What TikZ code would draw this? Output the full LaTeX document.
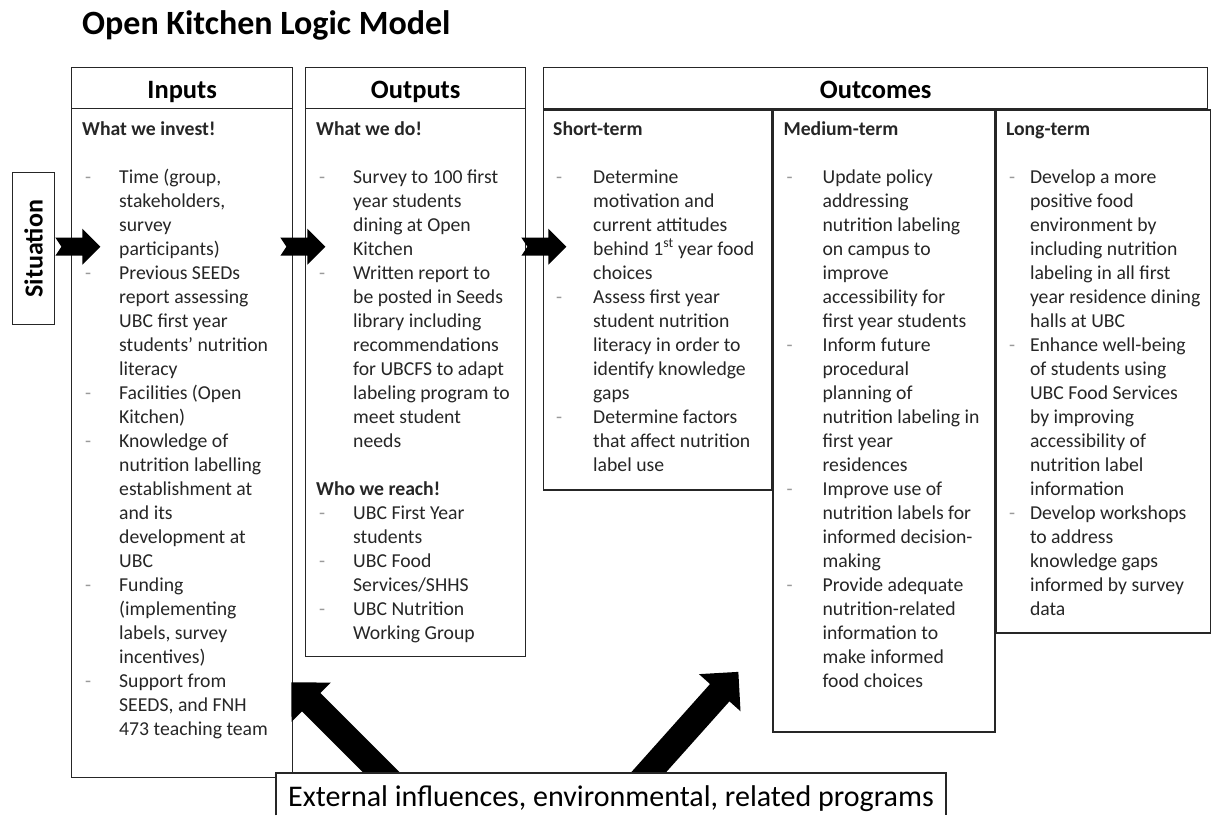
\documentclass[tikz,border=0pt]{standalone}
\usepackage{fontspec}
\setmainfont{Carlito}
\usepackage{xcolor}
\usetikzlibrary{arrows.meta, positioning, calc}

\definecolor{bodygray}{HTML}{262626}
\definecolor{dashgray}{HTML}{9A9A9A}
\newcommand{\itemdash}{\hspace{3pt}\textcolor{dashgray}{-}}
\newcommand{\colhead}[1]{\multicolumn{2}{@{}l@{}}{\textbf{#1}}}

\begin{document}
\begin{tikzpicture}[
  x=1pt, y=-1pt,
  colbox/.style = {draw=black!85, line width=1.4pt, fill=white,
    anchor=north west, inner sep=0pt},
  headbox/.style = {colbox, text height=21pt, text depth=1pt,
    font=\fontsize{26.5}{30}\selectfont\bfseries},
  bodytext/.style = {anchor=north west, inner sep=0pt, text=bodygray,
    font=\fontsize{19.7}{24}\selectfont},
  bigarrow/.style = {line width=26pt, -{Triangle[length=28pt, width=54pt]}},
  flowarrow/.pic = {\fill (0,-9) -- (27,-9) -- (27,-18) -- (45,0)
    -- (27,18) -- (27,9) -- (0,9) -- (6,0) -- cycle;},
]
\path[use as bounding box, fill=white] (0,0) rectangle (1213,815);

% Title
\node[anchor=base west, inner sep=0pt, font=\fontsize{34}{38}\selectfont\bfseries] (title) at (82,34) {Open Kitchen Logic Model};

% Situation
\node[colbox, minimum width=42pt, minimum height=152pt] (sit) at (12,172) {};
\node[rotate=90, font=\fontsize{26}{30}\selectfont\bfseries] (sitlbl) at (sit.center) {Situation};

% Column boxes
\node[colbox, minimum width=221pt, minimum height=710pt] (inp) at (71,67) {};
\node[headbox, minimum width=221pt, minimum height=41pt] (inph) at (71,67) {Inputs};
\node[colbox, minimum width=220pt, minimum height=589pt] (outp) at (305,67) {};
\node[headbox, minimum width=220pt, minimum height=41pt] (outph) at (305,67) {Outputs};
\node[headbox, minimum width=664pt, minimum height=41pt] (outch) at (543,67) {Outcomes};
\node[colbox, minimum width=228pt, minimum height=380pt] (short) at (outch.south west) {};
\node[colbox, minimum width=222pt, minimum height=622pt] (medium) at (short.north east) {};
\node[colbox, minimum width=214pt, minimum height=523pt] (long) at (medium.north east) {};

% Inputs text
\node[bodytext] (inptxt) at ($(inph.south west)+(11,9)$) {%
\begin{tabular}{@{}p{37pt}@{}l@{}}
\colhead{What we invest!}\\[24pt]
\itemdash & Time (group,\\
          & stakeholders,\\
          & survey\\
          & participants)\\
\itemdash & Previous SEEDs\\
          & report assessing\\
          & UBC first year\\
          & students' nutrition\\
          & literacy\\
\itemdash & Facilities (Open\\
          & Kitchen)\\
\itemdash & Knowledge of\\
          & nutrition labelling\\
          & establishment at\\
          & and its\\
          & development at\\
          & UBC\\
\itemdash & Funding\\
          & (implementing\\
          & labels, survey\\
          & incentives)\\
\itemdash & Support from\\
          & SEEDS, and FNH\\
          & 473 teaching team
\end{tabular}};

% Outputs text
\node[bodytext] (outptxt) at ($(outph.south west)+(11,9)$) {%
\begin{tabular}{@{}p{37pt}@{}l@{}}
\colhead{What we do!}\\[24pt]
\itemdash & Survey to 100 first\\
          & year students\\
          & dining at Open\\
          & Kitchen\\
\itemdash & Written report to\\
          & be posted in Seeds\\
          & library including\\
          & recommendations\\
          & for UBCFS to adapt\\
          & labeling program to\\
          & meet student\\
          & needs\\[24pt]
\colhead{Who we reach!}\\
\itemdash & UBC First Year\\
          & students\\
\itemdash & UBC Food\\
          & Services/SHHS\\
\itemdash & UBC Nutrition\\
          & Working Group
\end{tabular}};

% Short-term text
\node[bodytext] (shorttxt) at ($(short.north west)+(10,9)$) {%
\begin{tabular}{@{}p{40pt}@{}l@{}}
\colhead{Short-term}\\[24pt]
\itemdash & Determine\\
          & motivation and\\
          & current attitudes\\
          & behind 1\textsuperscript{st} year food\\
          & choices\\
\itemdash & Assess first year\\
          & student nutrition\\
          & literacy in order to\\
          & identify knowledge\\
          & gaps\\
\itemdash & Determine factors\\
          & that affect nutrition\\
          & label use
\end{tabular}};

% Medium-term text
\node[bodytext] (mediumtxt) at ($(medium.north west)+(11,9)$) {%
\begin{tabular}{@{}p{39pt}@{}l@{}}
\colhead{Medium-term}\\[24pt]
\itemdash & Update policy\\
          & addressing\\
          & nutrition labeling\\
          & on campus to\\
          & improve\\
          & accessibility for\\
          & first year students\\
\itemdash & Inform future\\
          & procedural\\
          & planning of\\
          & nutrition labeling in\\
          & first year\\
          & residences\\
\itemdash & Improve use of\\
          & nutrition labels for\\
          & informed decision-\\
          & making\\
\itemdash & Provide adequate\\
          & nutrition-related\\
          & information to\\
          & make informed\\
          & food choices
\end{tabular}};

% Long-term text
\node[bodytext] (longtxt) at ($(long.north west)+(10,9)$) {%
\begin{tabular}{@{}p{24pt}@{}l@{}}
\colhead{Long-term}\\[24pt]
\itemdash & Develop a more\\
          & positive food\\
          & environment by\\
          & including nutrition\\
          & labeling in all first\\
          & year residence dining\\
          & halls at UBC\\
\itemdash & Enhance well-being\\
          & of students using\\
          & UBC Food Services\\
          & by improving\\
          & accessibility of\\
          & nutrition label\\
          & information\\
\itemdash & Develop workshops\\
          & to address\\
          & knowledge gaps\\
          & informed by survey\\
          & data
\end{tabular}};

% Flow arrows between columns
\pic at ($(sit.east)+(0,-2)$) {flowarrow};
\pic at ($(inp.east |- sit.east)+(-13,-2)$) {flowarrow};
\pic at ($(outp.east |- sit.east)+(-5,-2)$) {flowarrow};

% External influences arrows
\coordinate (extL) at (400,791);
\coordinate (inpTip) at ($(inp.south east)+(-2,-96)$);
\coordinate (extR) at (631,792);
\coordinate (medTip) at ($(medium.south west)+(-34,-61)$);
\draw[bigarrow] (extL) -- (inpTip);
\draw[bigarrow] (extR) -- (medTip);

% External influences box
\node[anchor=north west, inner xsep=12pt, inner ysep=0pt, text height=33pt, text depth=9pt,
  fill=white, font=\fontsize{30}{34}\selectfont] (ext) at (276,773)
  {External influences, environmental, related programs};
\draw[line width=1.4pt, black!85] (ext.south west) |- (ext.north east) -- (ext.south east);
\end{tikzpicture}
\end{document}
